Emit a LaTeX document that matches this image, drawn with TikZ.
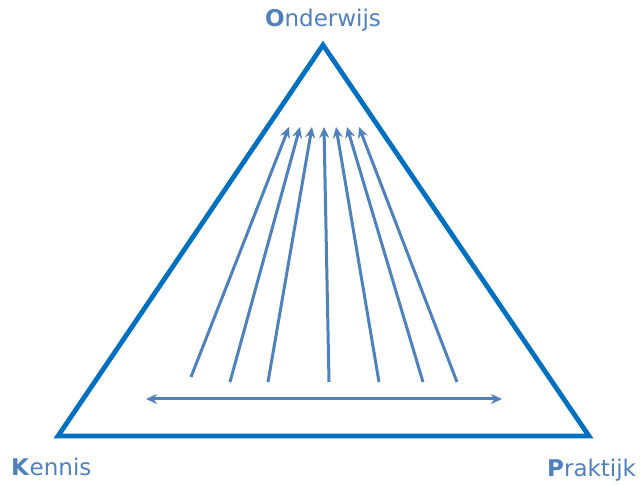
\documentclass[tikz,border=0pt]{standalone}
\usepackage{fontspec}
\setmainfont{DejaVu Sans}
\usetikzlibrary{arrows.meta}
\definecolor{tri}{HTML}{0070C0}
\definecolor{arr}{HTML}{4F81BD}
\begin{document}
\begin{tikzpicture}[x=1pt,y=-1pt,
  triline/.style={draw=tri,line width=4.8pt,line join=miter},
  flow/.style={draw=arr,line width=3pt,-{Stealth[length=11pt,width=10pt]}},
  both/.style={draw=arr,line width=3pt,{Stealth[length=11pt,width=10pt]}-{Stealth[length=11pt,width=10pt]}},
  lbl/.style={text=arr,font=\fontsize{23}{26}\selectfont,inner sep=0pt}]
\useasboundingbox (0,0) rectangle (641,486);
\coordinate (A) at (323,45);
\coordinate (L) at (58,436);
\coordinate (R) at (589,436);
\draw[triline] (A) -- (L) -- (R) -- cycle;
\node[lbl] (ond) at (323,20) {\textbf{O}nderwijs};
\node[lbl,anchor=west] (ken) at (11,467) {\textbf{K}ennis};
\node[lbl,anchor=west] (pra) at (547,470) {\textbf{P}raktijk};
\foreach \i/\xb/\yb/\xt in {1/191/377/289, 2/230/382/300, 3/268/382/312, 4/329/382/324, 5/379/382/336, 6/423/382/347, 7/457/382/359}{
  \coordinate (b\i) at (\xb,\yb);
  \coordinate (t\i) at (\xt,127);
  \draw[flow] (b\i) -- (t\i);
}
\coordinate (hl) at (146,399);
\coordinate (hr) at (502,399);
\draw[both] (hl) -- (hr);
\end{tikzpicture}
\end{document}
